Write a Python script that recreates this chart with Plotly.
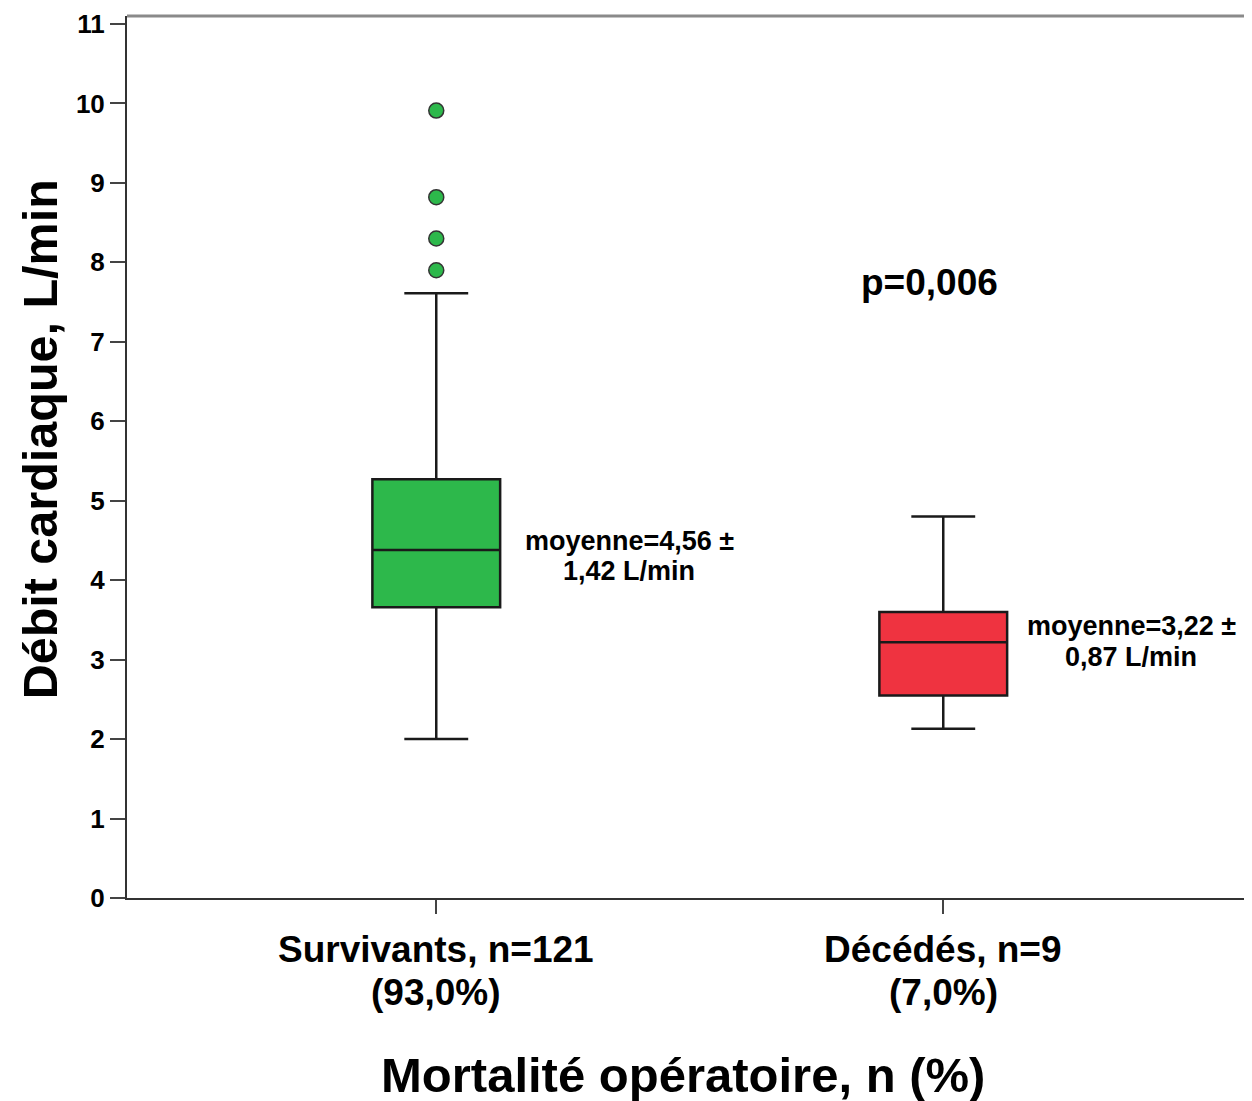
import plotly.graph_objects as go

# ---- data ----
categories = ["Survivants", "Décédés"]
tick_labels = [["Survivants, n=121", "(93,0%)"], ["Décédés, n=9", "(7,0%)"]]
q1 = [3.66, 2.55]
median = [4.38, 3.22]
q3 = [5.27, 3.60]
lower_fence = [2.00, 2.13]
upper_fence = [7.61, 4.80]
outliers_survivants = [7.90, 8.30, 8.82, 9.91]
box_colors = ["#2db84b", "#ef3340"]
mean_texts = [["moyenne=4,56 ±", "1,42 L/min"], ["moyenne=3,22 ±", "0,87 L/min"]]
p_text = "p=0,006"
y_ticks = list(range(0, 12))

FONT = "Liberation Sans, Arial, Helvetica, sans-serif"

fig = go.Figure()
for i, cat in enumerate(categories):
    fig.add_trace(go.Box(
        x=[cat], q1=[q1[i]], median=[median[i]], q3=[q3[i]],
        lowerfence=[lower_fence[i]], upperfence=[upper_fence[i]],
        fillcolor=box_colors[i], line=dict(color="#1a1a1a", width=2.5),
        width=0.252, whiskerwidth=0.5, boxpoints=False, showlegend=False,
        hoverinfo="skip",
    ))

fig.add_trace(go.Scatter(
    x=[categories[0]] * len(outliers_survivants), y=outliers_survivants,
    mode="markers",
    marker=dict(size=15, color=box_colors[0], line=dict(color="#333333", width=1.5)),
    showlegend=False, hoverinfo="skip",
))

# category labels (two lines each)
for cat, lines in zip(categories, tick_labels):
    for yy, t in zip((-0.0582, -0.1068), lines):
        fig.add_annotation(x=cat, y=yy, xref="x", yref="paper", text=t, showarrow=False,
                           xanchor="center", yanchor="middle",
                           font=dict(family=FONT, size=37, color="black", weight="bold"))

# annotations: mean texts
mean_pos = [(0.381, 4.49, 4.11), (1.371, 3.417, 3.028)]
for (xp, y1, y2), lines in zip(mean_pos, mean_texts):
    for yy, t in zip((y1, y2), lines):
        fig.add_annotation(x=xp, y=yy, xref="x", yref="y", text=t, showarrow=False,
                           xanchor="center", yanchor="middle",
                           font=dict(family=FONT, size=27, color="black", weight="bold"))

fig.add_annotation(x=0.972, y=7.75, xref="x", yref="y", text=p_text, showarrow=False,
                   xanchor="center", yanchor="middle",
                   font=dict(family=FONT, size=37, color="black", weight="bold"))

# axis titles
fig.add_annotation(x=-0.0774, y=0.52, xref="paper", yref="paper",
                   text="Débit cardiaque, L/min", textangle=-90, showarrow=False,
                   xanchor="center", yanchor="middle",
                   font=dict(family=FONT, size=48.5, color="black", weight="bold"))
fig.add_annotation(x=0.495, y=-0.201, xref="paper", yref="paper",
                   text="Mortalité opératoire, n (%)", showarrow=False,
                   xanchor="center", yanchor="middle",
                   font=dict(family=FONT, size=49, color="black", weight="bold"))

# top/right frame
fig.add_shape(type="line", xref="paper", yref="paper", x0=0, x1=1, y0=1, y1=1,
              line=dict(color="#8a8a8a", width=3))
fig.add_shape(type="line", xref="paper", yref="paper", x0=1, x1=1, y0=0, y1=1,
              line=dict(color="#9a9a9a", width=2))

fig.update_layout(
    width=1244, height=1093,
    margin=dict(l=119, r=1, t=5, b=203),
    paper_bgcolor="white", plot_bgcolor="white",
    boxmode="overlay",
    font=dict(family=FONT, color="black"),
    xaxis=dict(
        type="category", categoryorder="array", categoryarray=categories,
        range=[-0.61, 1.607], tickvals=categories, ticktext=["", ""],
        ticks="outside", ticklen=14, tickwidth=2, tickcolor="#444444",
        showline=True, linecolor="#333333", linewidth=2, showgrid=False, zeroline=False,
    ),
    yaxis=dict(
        range=[0, 11.1], tickvals=y_ticks,
        ticks="outside", ticklen=15, tickwidth=2, tickcolor="#444444",
        showline=True, linecolor="#333333", linewidth=2, showgrid=False, zeroline=False,
        ticklabeloverflow="allow",
        tickfont=dict(family=FONT, size=26, color="black", weight="bold"),
    ),
)

fig.write_html("out.html")
